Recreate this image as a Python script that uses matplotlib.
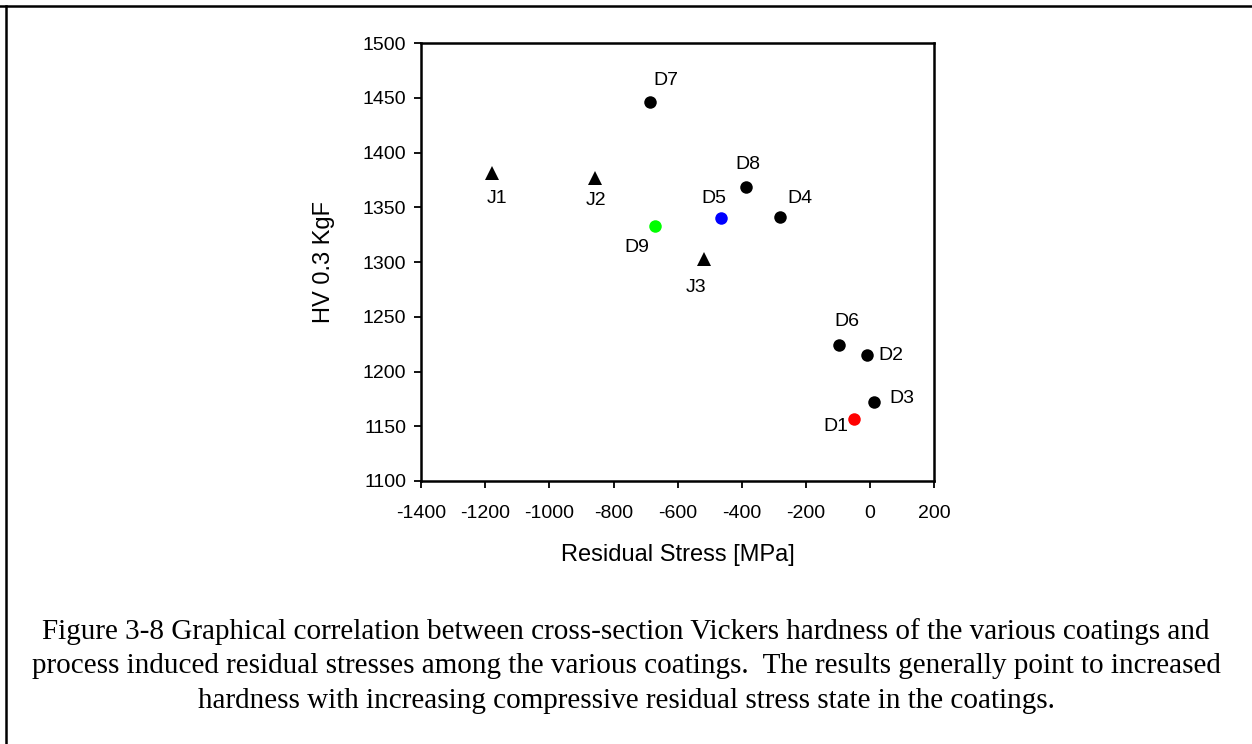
import matplotlib
matplotlib.use("Agg")
import matplotlib.pyplot as plt
from matplotlib.lines import Line2D

# data
names = ["D1", "D2", "D3", "D4", "D5", "D6", "D7", "D8", "D9", "J1", "J2", "J3"]
stress = [-50, -10, 14, -282, -464, -95, -686, -388, -672, -1180, -859, -519]
hardness = [1157, 1215, 1172, 1341, 1340, 1224, 1446, 1369, 1333, 1381, 1377, 1303]
markers = ["o", "o", "o", "o", "o", "o", "o", "o", "o", "^", "^", "^"]
colors = ["#ff0000", "k", "k", "k", "#0000ff", "k", "k", "k", "#00ff00", "k", "k", "k"]
# label positions (data coords)
label_x = [-107, 66, 99, -217, -486, -72, -637, -382, -727, -1163, -855, -544]
label_y = [1150, 1215, 1175, 1358, 1358, 1246, 1466, 1389, 1313, 1358, 1356, 1277]

caption = ("Figure 3-8 Graphical correlation between cross-section Vickers hardness of the various coatings and\n"
           "process induced residual stresses among the various coatings.  The results generally point to increased\n"
           "hardness with increasing compressive residual stress state in the coatings.")

plt.rcParams['font.family'] = ['Liberation Sans', 'DejaVu Sans']
plt.rcParams['axes.unicode_minus'] = False

fig = plt.figure(figsize=(12.52, 7.44), dpi=100)
ax = fig.add_axes([0.3365, 0.3535, 0.4095, 0.5885])

for i in range(len(names)):
    ms = 9 if markers[i] == "o" else 9.5
    ax.plot(stress[i], hardness[i], linestyle="none", marker=markers[i],
            color=colors[i], markersize=ms, markeredgewidth=0)
    ax.text(label_x[i], label_y[i], names[i], fontsize=14, ha="center", va="center")

ax.set_xlim(-1400, 200)
ax.set_ylim(1100, 1500)
ax.set_xticks(range(-1400, 201, 200))
ax.set_yticks(range(1100, 1501, 50))
ax.tick_params(direction="out", length=5, width=1.3, labelsize=14)
ax.tick_params(axis="x", pad=12)
ax.tick_params(axis="y", pad=6)
for s in ax.spines.values():
    s.set_linewidth(1.8)

ax.set_xlabel("Residual Stress [MPa]", fontsize=17, labelpad=16)
ax.set_ylabel("HV 0.3 KgF", fontsize=17, labelpad=20)

# caption under the chart
fig.text(0.5, 0.105, caption, ha="center", va="center", fontsize=21,
         family=["Liberation Serif", "DejaVu Serif"], linespacing=1.44)

# frame lines on top and left side
fig.add_artist(Line2D([0.0, 1.0], [0.9925, 0.9925], color="k", linewidth=1.8))
fig.add_artist(Line2D([0.0045, 0.0045], [0.0, 0.9925], color="k", linewidth=1.8))

fig.savefig("out.png", dpi=100)
